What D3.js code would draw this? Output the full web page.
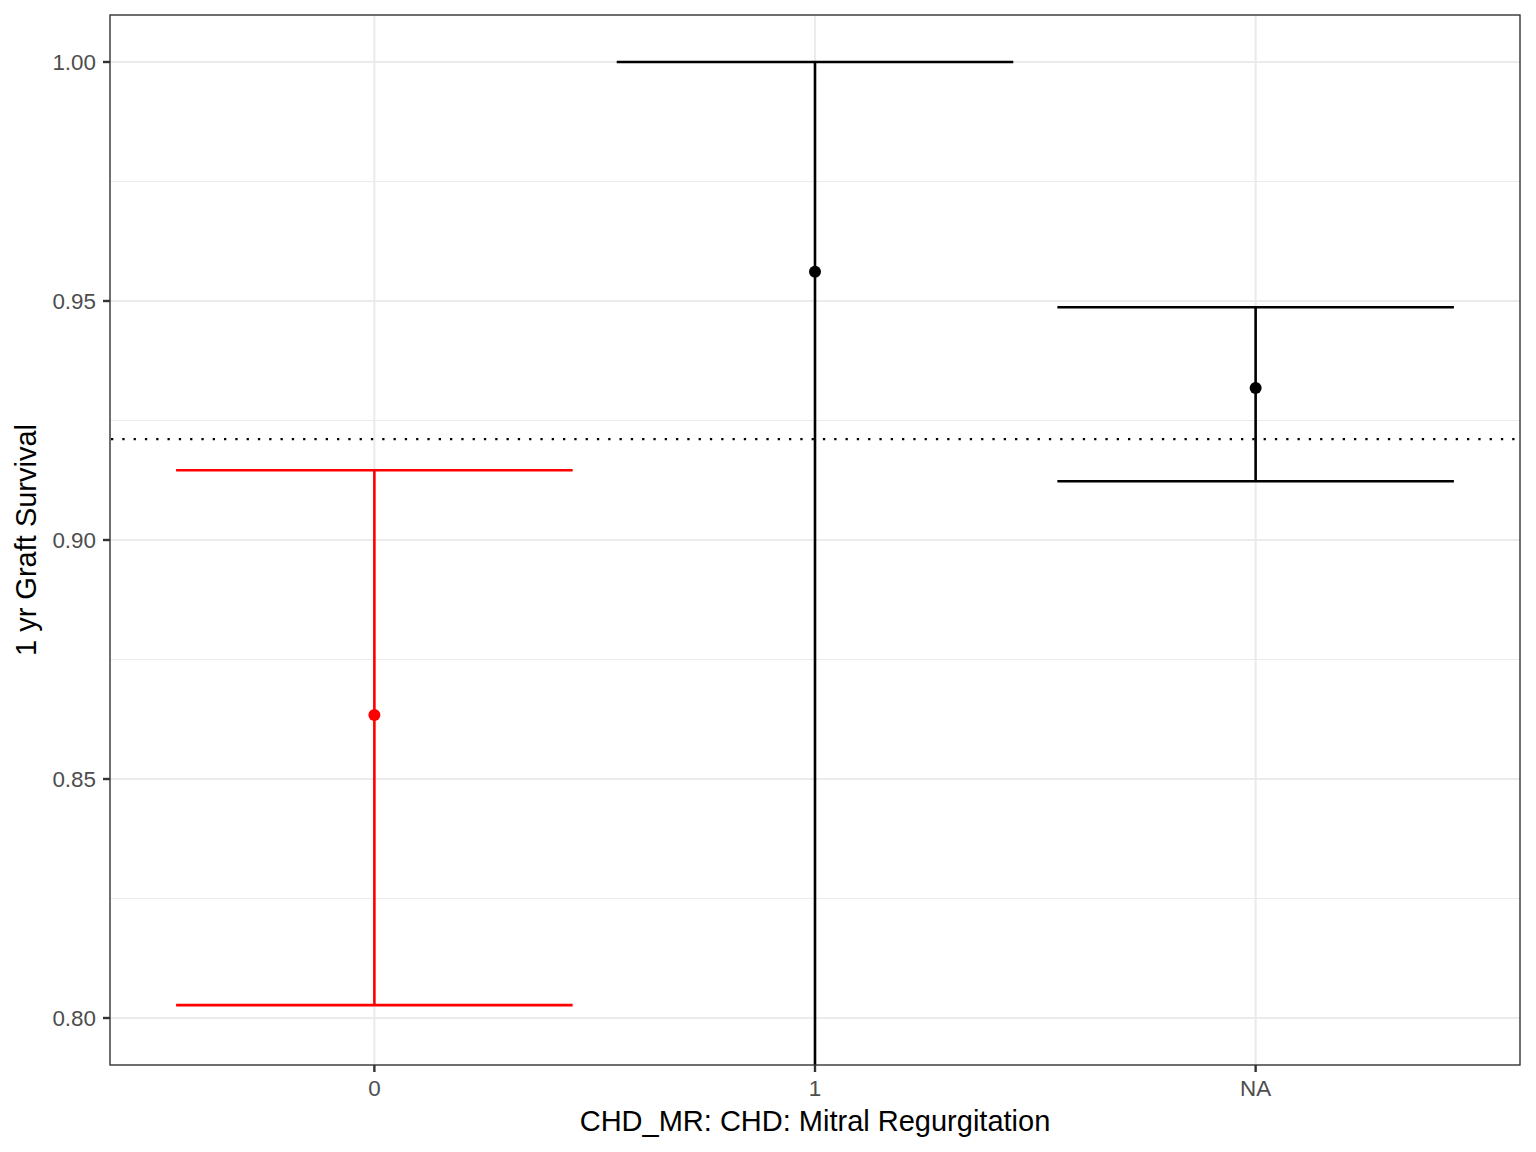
<!DOCTYPE html>
<html><head><meta charset="utf-8">
<script src="https://cdn.jsdelivr.net/npm/d3@7"></script>
<style>body{margin:0;background:#fff}</style>
</head><body>
<script>
const categories = ["0", "1", "NA"];
const estimates = [0.8634, 0.9561, 0.9318];
const lowers = [0.8027, 0.70, 0.9123];
const uppers = [0.9146, 1.0000, 0.9487];
const colors = ["#FF0000", "#000000", "#000000"];
const refLine = 0.9211;
const yTicks = [0.80, 0.85, 0.90, 0.95, 1.00];
const yMinor = [0.825, 0.875, 0.925, 0.975];

const W = 1536, H = 1152;
const L = 110, R = 1520, T = 15, B = 1065;
const svg = d3.select("body").append("svg").attr("width", W).attr("height", H);

const x = d3.scaleLinear().domain([0.4, 3.6]).range([L, R]);
const y = d3.scaleLinear().domain([0.79017, 1.00983]).range([B, T]);

svg.append("defs").append("clipPath").attr("id","clip")
  .append("rect").attr("x",L).attr("y",T).attr("width",R-L).attr("height",B-T);

const g = svg.append("g");
g.selectAll(".minor").data(yMinor).join("line")
  .attr("x1",L).attr("x2",R).attr("y1",d=>y(d)).attr("y2",d=>y(d))
  .attr("stroke","#EBEBEB").attr("stroke-width",1.1);
g.selectAll(".majory").data(yTicks).join("line")
  .attr("x1",L).attr("x2",R).attr("y1",d=>y(d)).attr("y2",d=>y(d))
  .attr("stroke","#EBEBEB").attr("stroke-width",2.1);
g.selectAll(".majorx").data(categories).join("line")
  .attr("x1",(d,i)=>x(i+1)).attr("x2",(d,i)=>x(i+1)).attr("y1",T).attr("y2",B)
  .attr("stroke","#EBEBEB").attr("stroke-width",2.1);

const p = svg.append("g").attr("clip-path","url(#clip)");
p.append("line").attr("x1",L+1).attr("x2",R).attr("y1",y(refLine)).attr("y2",y(refLine))
  .attr("stroke","#000").attr("stroke-width",2.3).attr("stroke-dasharray","2.3,9.0");

const hw = 0.45;
const lw = 2.6;
categories.forEach((c,i)=>{
  const col = colors[i];
  p.append("line").attr("x1",x(i+1)).attr("x2",x(i+1)).attr("y1",y(lowers[i])).attr("y2",y(uppers[i]))
    .attr("stroke",col).attr("stroke-width",lw);
  [lowers[i], uppers[i]].forEach(v=>{
    p.append("line").attr("x1",x(i+1-hw)).attr("x2",x(i+1+hw)).attr("y1",y(v)).attr("y2",y(v))
      .attr("stroke",col).attr("stroke-width",lw);
  });
  p.append("circle").attr("cx",x(i+1)).attr("cy",y(estimates[i])).attr("r",6).attr("fill",col);
});

svg.append("rect").attr("x",L).attr("y",T).attr("width",R-L).attr("height",B-T)
  .attr("fill","none").attr("stroke","#333333").attr("stroke-width",1.4);

const fontFam = "'Liberation Sans', Arial, sans-serif";
yTicks.forEach(v=>{
  svg.append("line").attr("x1",L-7).attr("x2",L).attr("y1",y(v)).attr("y2",y(v))
    .attr("stroke","#333333").attr("stroke-width",2.4);
  svg.append("text").attr("x",L-14).attr("y",y(v)).attr("dy","0.36em")
    .attr("text-anchor","end").attr("font-family",fontFam).attr("font-size",22.4)
    .attr("fill","#4D4D4D").text(d3.format(".2f")(v));
});
categories.forEach((c,i)=>{
  svg.append("line").attr("x1",x(i+1)).attr("x2",x(i+1)).attr("y1",B).attr("y2",B+7)
    .attr("stroke","#333333").attr("stroke-width",2.4);
  svg.append("text").attr("x",x(i+1)).attr("y",1096)
    .attr("text-anchor","middle").attr("font-family",fontFam).attr("font-size",22.4)
    .attr("fill","#4D4D4D").text(c);
});
svg.append("text").attr("x",(L+R)/2).attr("y",1131).attr("text-anchor","middle")
  .attr("font-family",fontFam).attr("font-size",29).attr("fill","#000")
  .text("CHD_MR: CHD: Mitral Regurgitation");
svg.append("text").attr("transform",`translate(36,${(T+B)/2}) rotate(-90)`)
  .attr("text-anchor","middle").attr("font-family",fontFam).attr("font-size",29).attr("fill","#000")
  .text("1 yr Graft Survival");
</script>
</body></html>
